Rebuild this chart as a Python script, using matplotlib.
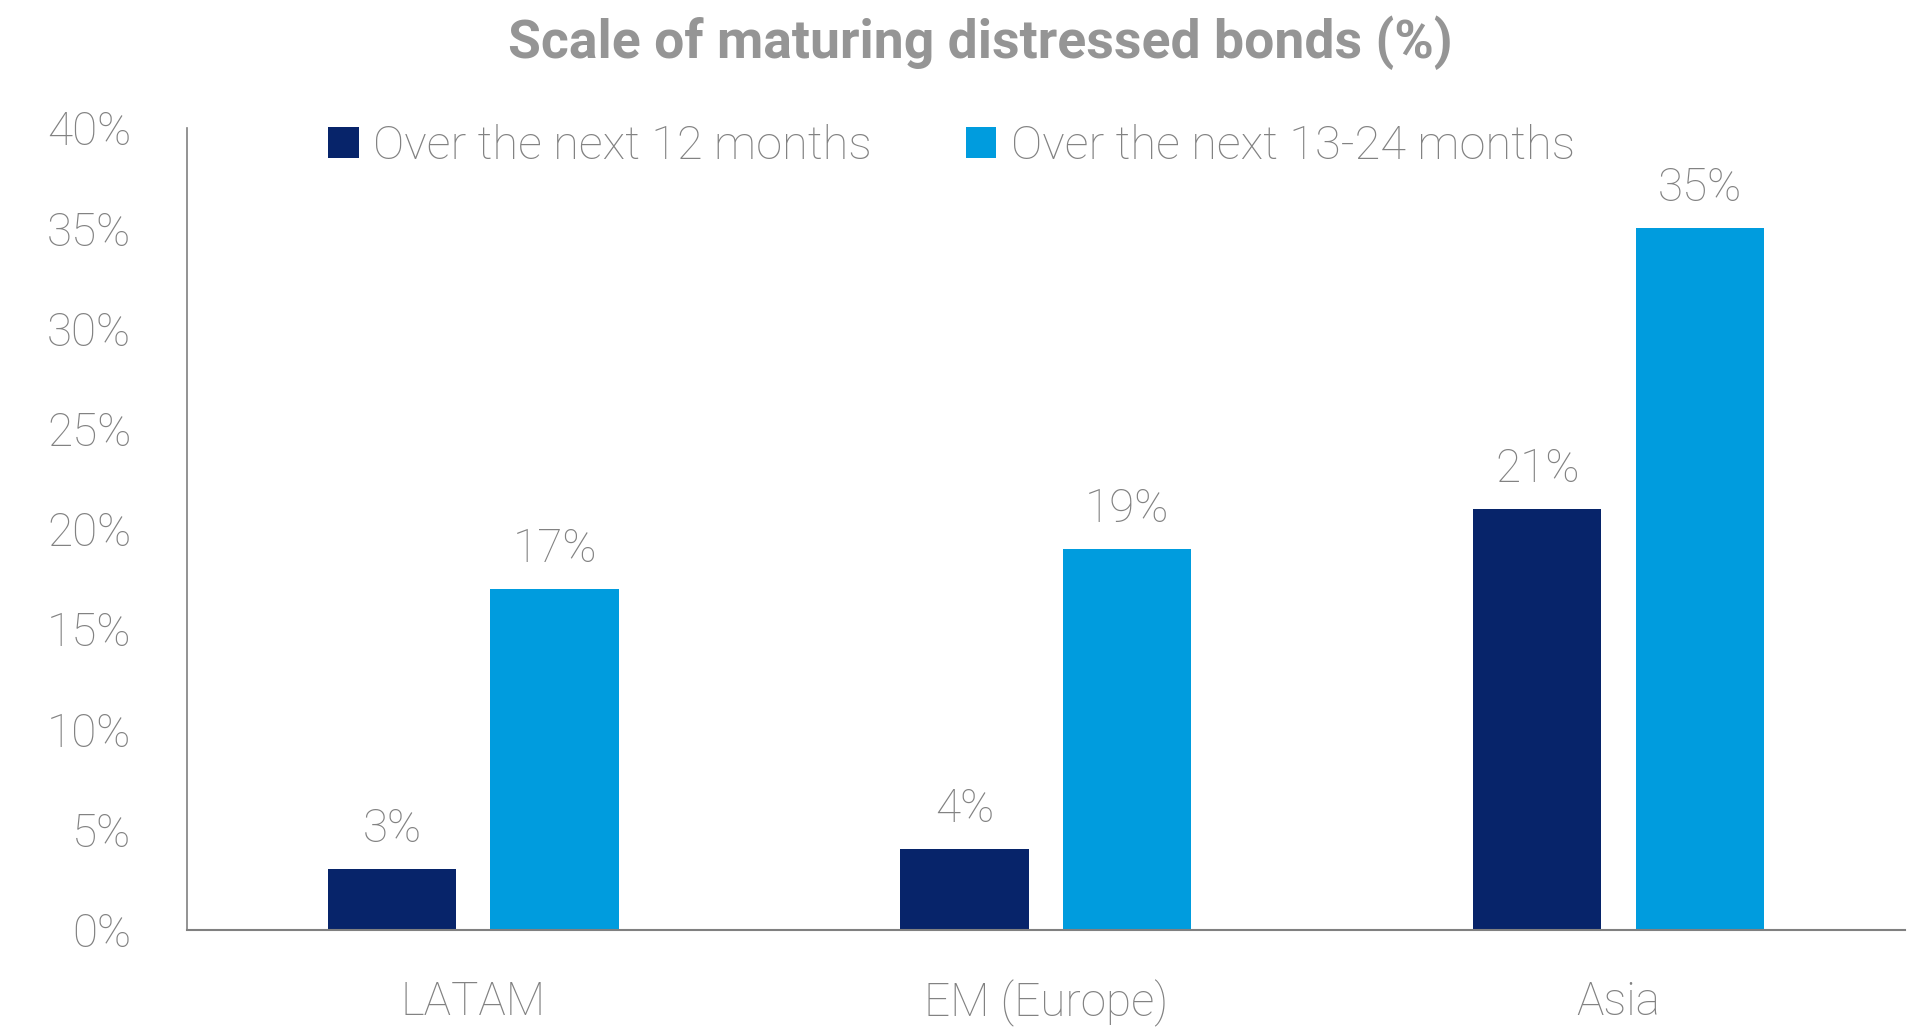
import numpy as np
import matplotlib
matplotlib.use('Agg')
import matplotlib.pyplot as plt

regions = ['LATAM', 'EM (Europe)', 'Asia']
next_12 = [3, 4, 21]
next_13_24 = [17, 19, 35]
series_names = ['Over the next 12 months', 'Over the next 13-24 months']
yticks = [0, 5, 10, 15, 20, 25, 30, 35, 40]

navy = '#07246a'
sky = '#009cde'
grey = '#828282'

plt.rcParams['font.family'] = ['Roboto', 'DejaVu Sans']
plt.rcParams['font.weight'] = 'light'

fig = plt.figure(figsize=(19.33, 10.27), dpi=100)
ax = fig.add_axes([0.0967, 0.0949, 0.8888, 0.7805])

x = np.arange(len(regions))
w = 0.224
off = 0.142
b1 = ax.bar(x - off, next_12, w, color=navy, label=series_names[0])
b2 = ax.bar(x + off, next_13_24, w, color=sky, label=series_names[1])

for bars in (b1, b2):
    ax.bar_label(bars, labels=['%d%%' % v for v in bars.datavalues],
                 padding=13, fontsize=33, color=grey, fontweight='light')

ax.set_xlim(-0.5, 2.5)
ax.set_ylim(0, 40)
ax.set_yticks(yticks)
ax.set_yticklabels(['%d%%' % t for t in yticks])
ax.set_xticks(x)
ax.set_xticklabels(regions)
ax.tick_params(axis='y', length=0, pad=40, labelsize=33, labelcolor=grey)
ax.tick_params(axis='x', length=0, pad=36, labelsize=33, labelcolor=grey)

for s in ('top', 'right'):
    ax.spines[s].set_visible(False)
ax.spines['left'].set_color('#808080')
ax.spines['bottom'].set_color('#808080')
ax.spines['left'].set_linewidth(1.2)
ax.spines['bottom'].set_linewidth(1.5)

leg = ax.legend(loc='center left', bbox_to_anchor=(0.082, 0.9775), ncol=2,
                frameon=False, fontsize=33.8, handlelength=0.66, handleheight=0.66,
                handletextpad=0.3, columnspacing=2.0, borderpad=0, borderaxespad=0)
for t in leg.get_texts():
    t.set_color(grey)

fig.text(0.507, 1 - 43 / 1027, 'Scale of maturing distressed bonds (%)',
         ha='center', va='center', fontsize=38.5, fontweight='bold', color='#959595')

fig.savefig('out.png', dpi=100)
